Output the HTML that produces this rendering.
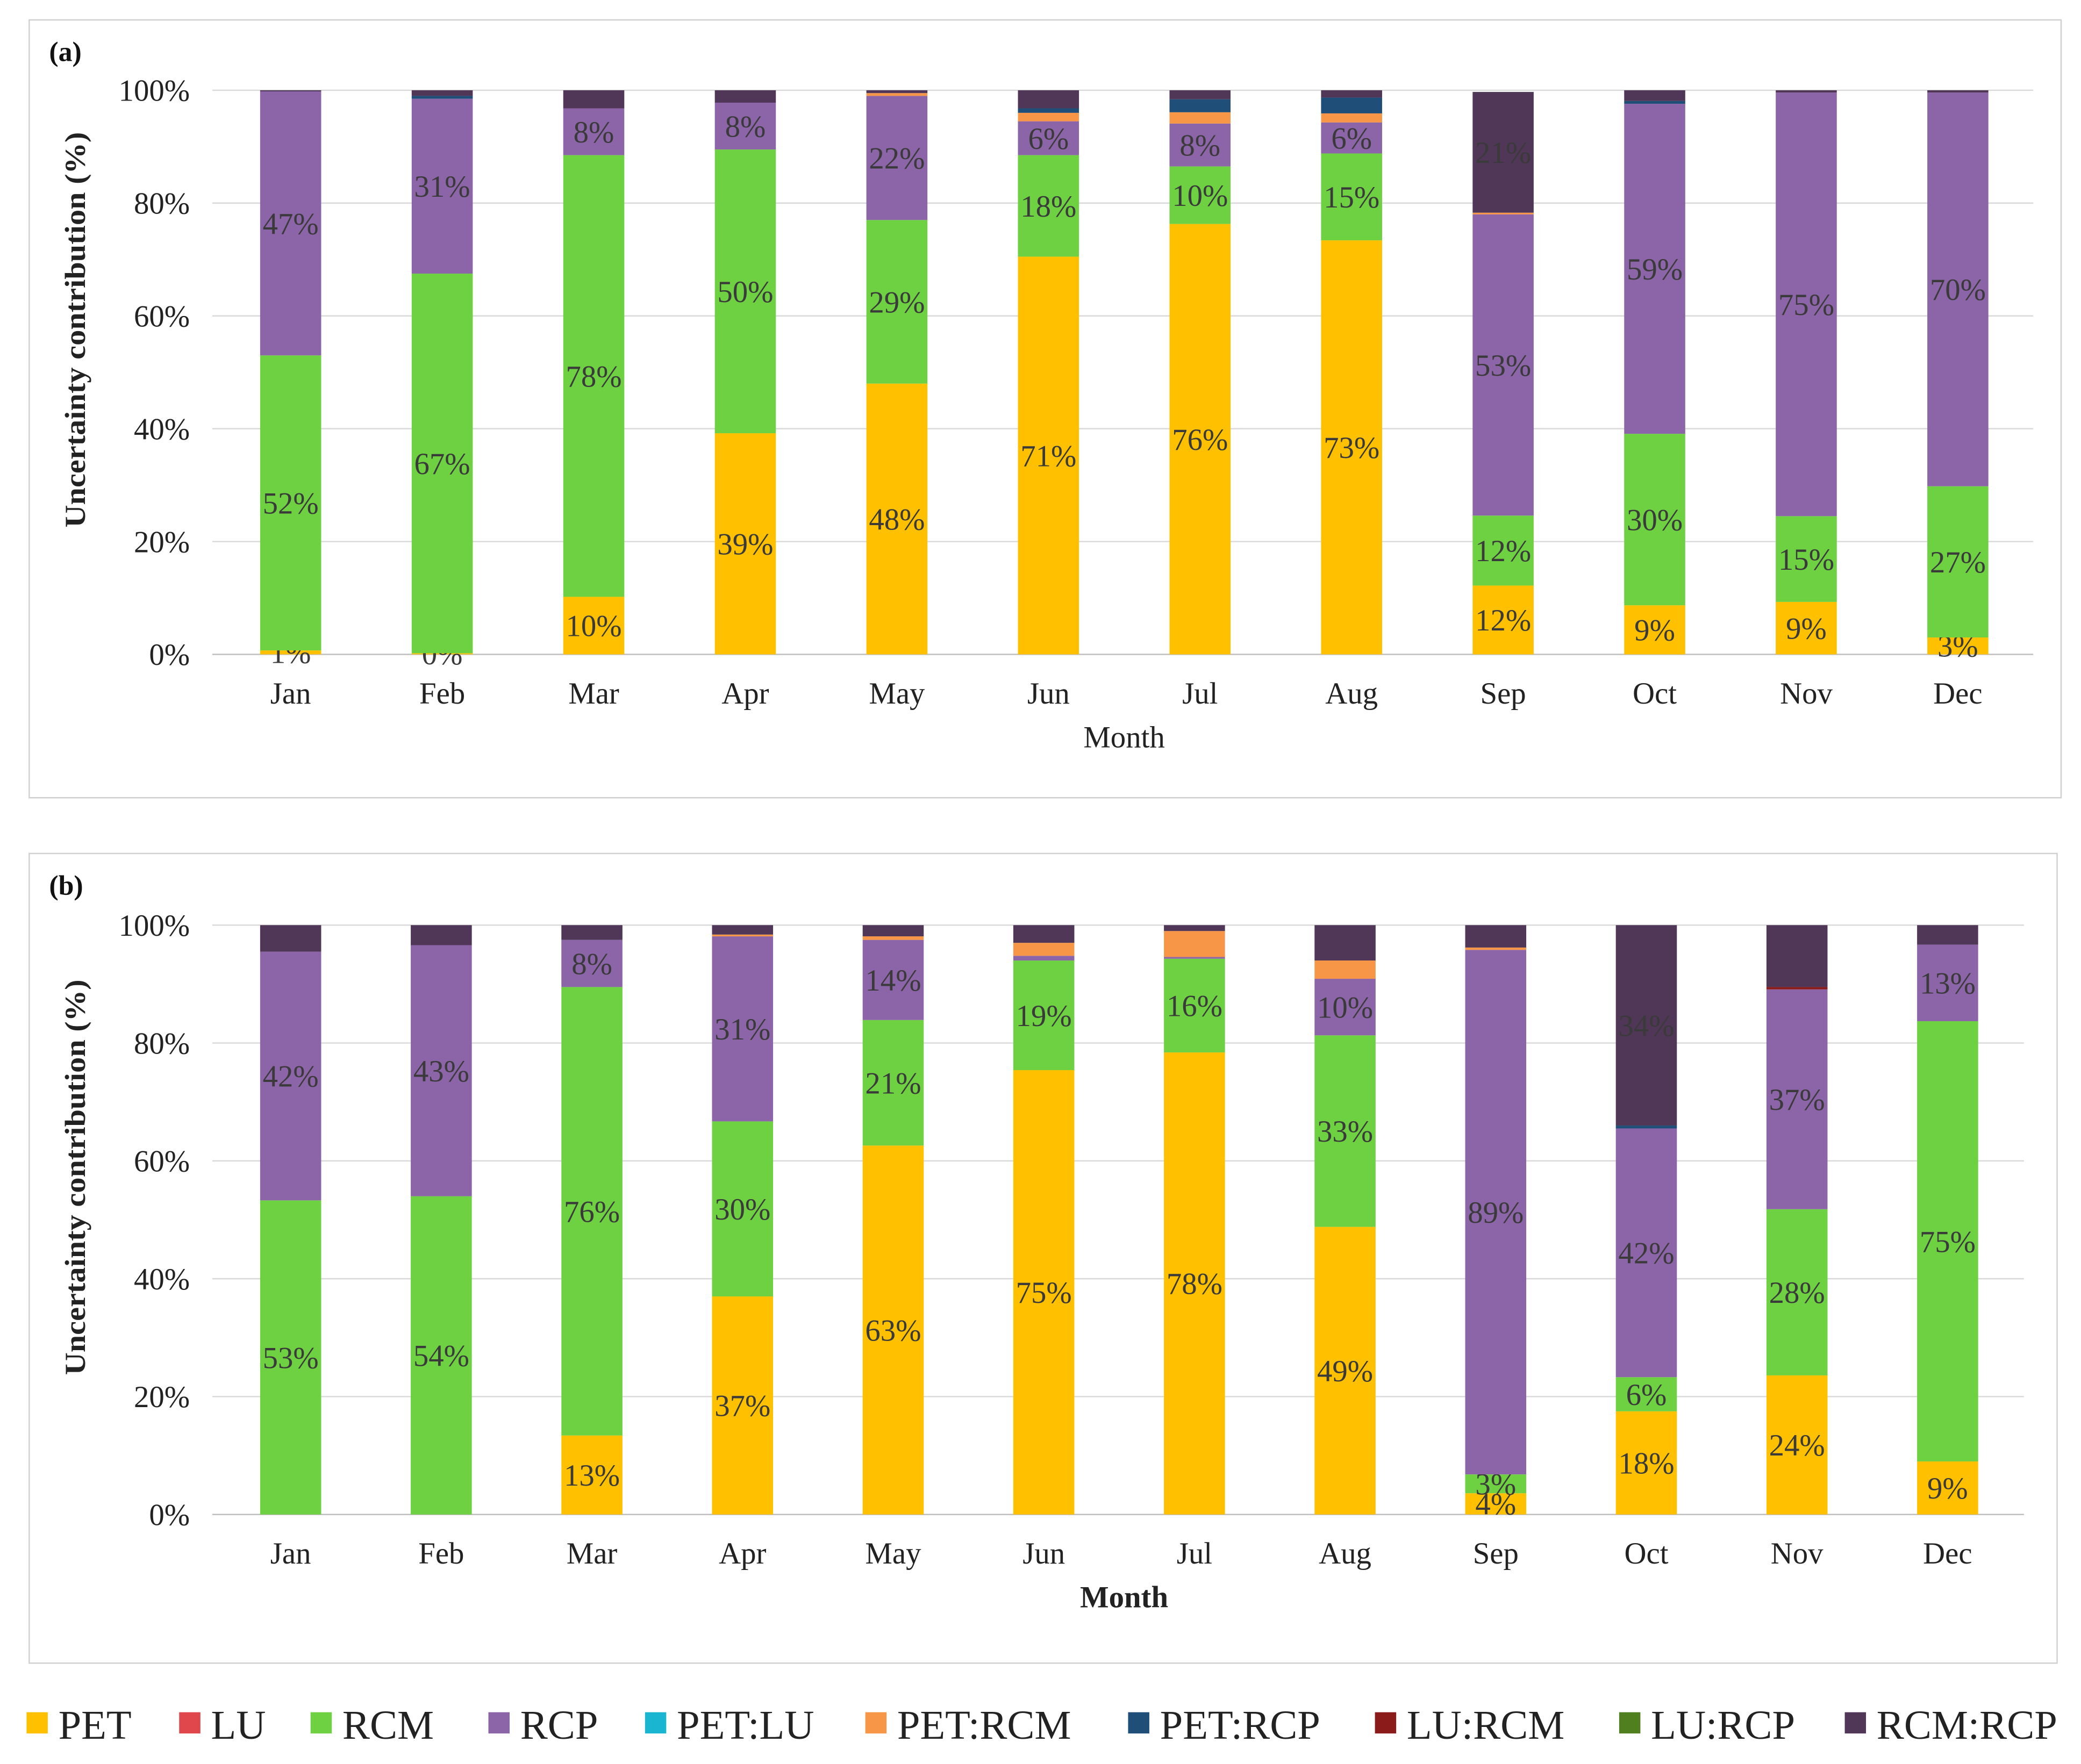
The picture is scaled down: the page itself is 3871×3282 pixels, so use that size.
<!DOCTYPE html>
<html><head><meta charset="utf-8"><style>
html,body{margin:0;padding:0;background:#fff}
svg{display:block}
text{font-family:"Liberation Serif",serif}
</style></head><body>
<svg id="chart" width="3871" height="3282" viewBox="0 0 1568 1329" preserveAspectRatio="none" xmlns="http://www.w3.org/2000/svg"></svg>
<script>
const months = ["Jan","Feb","Mar","Apr","May","Jun","Jul","Aug","Sep","Oct","Nov","Dec"];
const sources = ["PET","LU","RCM","RCP","PET:LU","PET:RCM","PET:RCP","LU:RCM","LU:RCP","RCM:RCP"];
const colors = ["#FFC000","#E0474C","#6DD142","#8C64A8","#1AB5D0","#F79646","#1F4E79","#8B1A1A","#4F7F1F","#503758"];
const yTicks = [0,20,40,60,80,100];
// panel a, per source, per month
const aPET   = [0.7,0.2,10.2,39.2,48,70.5,76.3,73.4,12.2,8.7,9.3,3];
const aLU    = [0,0,0,0,0,0,0,0,0,0,0,0];
const aRCM   = [52.3,67.3,78.3,50.3,29,18,10.2,15.4,12.4,30.4,15.2,26.8];
const aRCP   = [46.8,31,8.3,8.3,22,6,7.6,5.5,53.4,58.5,75.1,69.8];
const aPETLU = [0,0,0,0,0,0,0,0,0,0,0,0];
const aPETRCM= [0,0,0,0,0.5,1.5,2,1.6,0.3,0,0,0];
const aPETRCP= [0,0.5,0,0,0,0.8,2.3,2.8,0,0.5,0,0];
const aLURCM = [0,0,0,0,0,0,0,0,0,0,0,0];
const aLURCP = [0,0,0,0,0,0,0,0,0,0,0,0];
const aRCMRCP= [0.2,1,3.2,2.2,0.5,3.2,1.6,1.3,21.4,1.9,0.4,0.4];
// panel b
const bPET   = [0,0,13.4,37,62.6,75.4,78.4,48.8,3.6,17.5,23.6,9];
const bLU    = [0,0,0,0,0,0,0,0,0,0,0,0];
const bRCM   = [53.3,54,76.1,29.7,21.3,18.6,15.9,32.5,3.2,5.8,28.2,74.7];
const bRCP   = [42.2,42.6,8,31.4,13.6,0.8,0.3,9.6,89,42.2,37.3,13];
const bPETLU = [0,0,0,0,0,0,0,0,0,0,0,0];
const bPETRCM= [0,0,0,0.3,0.6,2.2,4.4,3.1,0.4,0,0,0];
const bPETRCP= [0,0,0,0,0,0,0,0,0,0.5,0,0];
const bLURCM = [0,0,0,0,0,0,0,0,0,0,0.4,0];
const bLURCP = [0,0,0,0,0,0,0,0,0,0,0,0];
const bRCMRCP= [4.5,3.4,2.5,1.6,1.9,3,1,6,3.8,34,10.5,3.3];

const NS="http://www.w3.org/2000/svg";
const svg=document.getElementById('chart');
function el(tag,attrs,parent){const e=document.createElementNS(NS,tag);for(const k in attrs)e.setAttribute(k,attrs[k]);(parent||svg).appendChild(e);return e;}
const FS=23;
function panel(cfg){
  const g=el('g',{});
  
  
  const box=el('rect',{x:cfg.bx,y:cfg.by,width:cfg.bw,height:cfg.bh,fill:'none',stroke:'#d0d0d0','stroke-width':1},g);
  
  
  const yS=v=>cfg.y0-(cfg.y0-cfg.y100)*v/100;
  const xS=i=>cfg.x0+cfg.step*i;
  yTicks.forEach(t=>{
    const l=el('line',{x1:cfg.px0,x2:cfg.px1,y1:yS(t),y2:yS(t),stroke:t===0?'#bfbfbf':'#d9d9d9','stroke-width':1},g);
    
    
    const tx=el('text',{x:143,y:yS(t)+8,'text-anchor':'end','font-size':FS,fill:'#222'},g);
    
    
    tx.textContent=t+'%';
  });
  months.forEach((m,i)=>{
    let cum=0;
    cfg.series.forEach((arr,s)=>{
      const v=arr[i];
      if(v>0){
        const r=el('rect',{x:xS(i)-23,y:yS(cum+v),width:46,height:yS(cum)-yS(cum+v),fill:colors[s]},g);
        
        
      }
      const show=(s===0&&cfg.petAlways)||((s===0||s===2||s===3)&&v>=2)||(s===9&&v>=15);
      if(show){
        const t=el('text',{x:xS(i),y:yS(cum+v/2)+8,'text-anchor':'middle','font-size':FS,fill:'#3a3a3a'},g);
        
        
        t.textContent=Math.round(v)+'%';
      }
      cum+=v;
    });
    const ml=el('text',{x:xS(i),y:cfg.y0+37,'text-anchor':'middle','font-size':FS,fill:'#222'},g);
    
    
    ml.textContent=m;
  });
  const xt=el('text',{x:847,y:cfg.y0+70,'text-anchor':'middle','font-size':FS,'font-weight':cfg.boldX?'bold':'normal',fill:'#222'},g);
  
  
  xt.textContent='Month';
  const cy=(cfg.y0+cfg.y100)/2;
  const yt=el('text',{x:0,y:0,transform:`translate(64,${cy-32}) rotate(-90)`,'text-anchor':'middle','font-size':22,'font-weight':'bold',fill:'#222',textLength:298,lengthAdjust:'spacingAndGlyphs'},g);
  
  
  yt.textContent='Uncertainty contribution (%)';
  const pl=el('text',{x:37,y:cfg.by+31,'font-size':21,'font-weight':'bold',fill:'#111'},g);
  
  
  pl.textContent=cfg.label;
}
panel({name:'panel-a',label:'(a)',bx:22,by:15,bw:1531,bh:586,y0:493,y100:68,x0:219,step:114.2,px0:160,px1:1532,petAlways:true,boldX:false,
  series:[aPET,aLU,aRCM,aRCP,aPETLU,aPETRCM,aPETRCP,aLURCM,aLURCP,aRCMRCP]});
panel({name:'panel-b',label:'(b)',bx:22,by:643,bw:1528,bh:610,y0:1141,y100:697,x0:219,step:113.5,px0:160,px1:1525,petAlways:false,boldX:true,
  series:[bPET,bLU,bRCM,bRCP,bPETLU,bPETRCM,bPETRCP,bLURCM,bLURCP,bRCMRCP]});

const legX=[20,135,234,368,486,652,850,1036,1220,1390];
const lg=el('g',{});


sources.forEach((s,i)=>{
  const r=el('rect',{x:legX[i],y:1290,width:16,height:16,fill:colors[i]},lg);
  
  
  const t=el('text',{x:legX[i]+24,y:1310,'font-size':31,fill:'#222'},lg);
  
  
  t.textContent=s;
});
</script>
</body></html>
